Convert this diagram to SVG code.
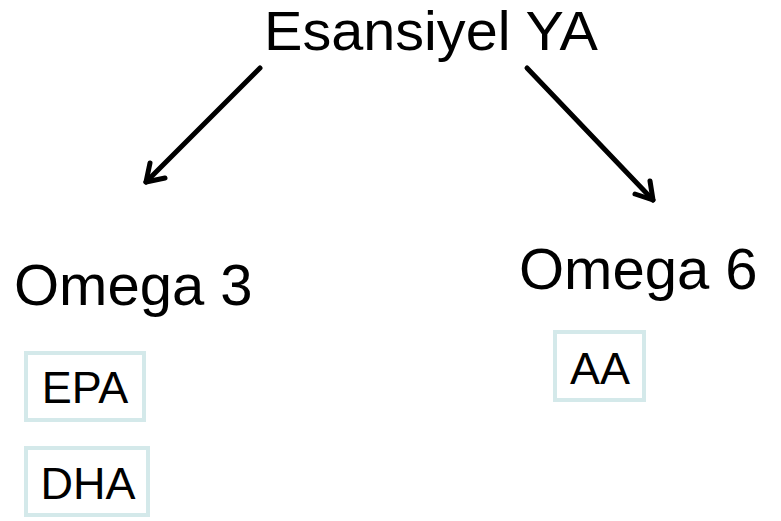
<svg xmlns="http://www.w3.org/2000/svg" width="781" height="521" viewBox="0 0 781 521">
<style>
.t{font-family:"Liberation Sans",Arial,sans-serif;fill:#000}
.big{font-size:58px}
.sm{font-size:45px}
.box{fill:#fff;stroke:#d4e9ea;stroke-width:4}
.c{fill:none;stroke:#000;stroke-width:5;stroke-linecap:round;stroke-linejoin:round}
</style>
<rect width="781" height="521" fill="#fff"/>
<g id="root"><text class="t" style="font-size:55px" x="264" y="50" textLength="334" lengthAdjust="spacingAndGlyphs">Esansiyel YA</text></g>
<g id="omega3"><text class="t big" x="14" y="305">Omega 3</text></g>
<g id="omega6"><text class="t big" x="519" y="289">Omega 6</text></g>
<g id="epa"><rect class="box" x="26" y="353" width="118" height="67"/><text class="t sm" x="85" y="403" text-anchor="middle">EPA</text></g>
<g id="dha"><rect class="box" x="26" y="448" width="122" height="67"/><text class="t sm" x="88" y="499" text-anchor="middle">DHA</text></g>
<g id="aa"><rect class="box" x="555" y="332" width="89" height="68"/><text class="t sm" x="600" y="384" text-anchor="middle">AA</text></g>
<g id="connectors">
<path class="c" d="M260,68 L146,182"/>
<path class="c" d="M146,182 L150,163 M146,182 L165,178"/>
<path class="c" d="M527,68 L653,200"/>
<path class="c" d="M653,200 L635,194 M653,200 L650,181"/>
</g>
</svg>
